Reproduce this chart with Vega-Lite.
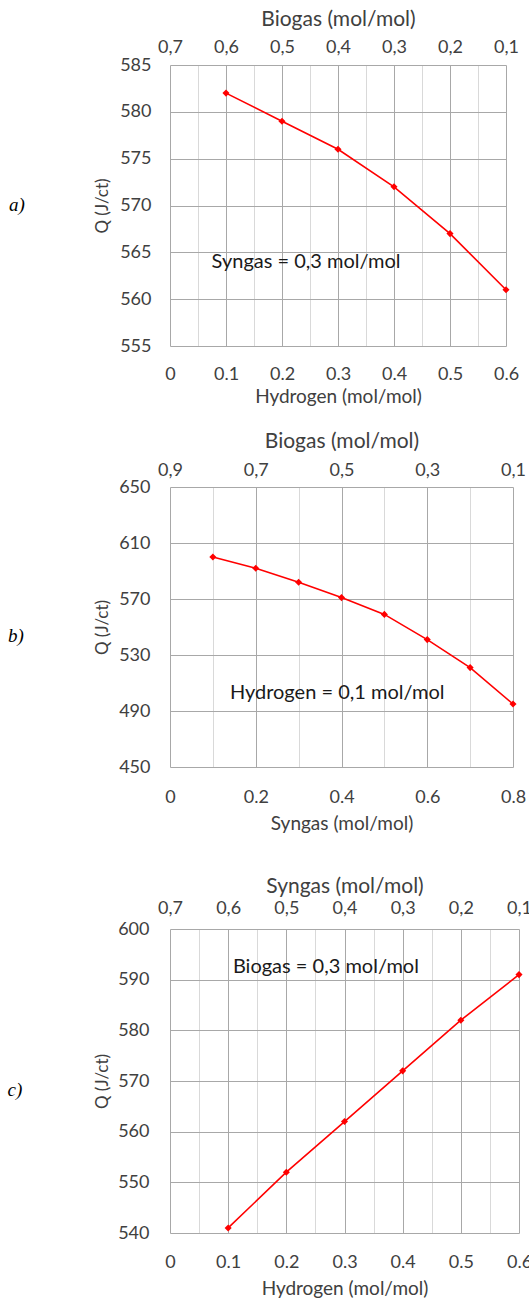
{
  "$schema": "https://vega.github.io/schema/vega-lite/v6.json",
  "padding": {"left": 7, "top": 8, "right": 0, "bottom": 0},
  "config": {
    "font": "Lato",
    "view": {"stroke": null},
    "axis": {"labelFont": "Lato", "titleFont": "Lato", "labelColor": "#404040", "titleColor": "#404040", "titleFontWeight": "normal", "ticks": false, "domain": false, "labelFontSize": 18, "titleFontSize": 19, "labelOverlap": false, "labelFlush": false, "labelBound": false}
  },
  "datasets": {
    "a": [
      {"hydrogen": 0.1, "biogas": 0.6, "Q": 582},
      {"hydrogen": 0.2, "biogas": 0.5, "Q": 579},
      {"hydrogen": 0.3, "biogas": 0.4, "Q": 576},
      {"hydrogen": 0.4, "biogas": 0.3, "Q": 572},
      {"hydrogen": 0.5, "biogas": 0.2, "Q": 567},
      {"hydrogen": 0.6, "biogas": 0.1, "Q": 561}
    ],
    "b": [
      {"syngas": 0.1, "biogas": 0.8, "Q": 600},
      {"syngas": 0.2, "biogas": 0.7, "Q": 592},
      {"syngas": 0.3, "biogas": 0.6, "Q": 582},
      {"syngas": 0.4, "biogas": 0.5, "Q": 571},
      {"syngas": 0.5, "biogas": 0.4, "Q": 559},
      {"syngas": 0.6, "biogas": 0.3, "Q": 541},
      {"syngas": 0.7, "biogas": 0.2, "Q": 521},
      {"syngas": 0.8, "biogas": 0.1, "Q": 495}
    ],
    "c": [
      {"hydrogen": 0.1, "syngas": 0.6, "Q": 541},
      {"hydrogen": 0.2, "syngas": 0.5, "Q": 552},
      {"hydrogen": 0.3, "syngas": 0.4, "Q": 562},
      {"hydrogen": 0.4, "syngas": 0.3, "Q": 572},
      {"hydrogen": 0.5, "syngas": 0.2, "Q": 582},
      {"hydrogen": 0.6, "syngas": 0.1, "Q": 591}
    ],
    "noteA": [{"x": 0.243, "y": 564, "label": "Syngas = 0,3 mol/mol"}],
    "noteB": [{"x": 0.39, "y": 503, "label": "Hydrogen = 0,1 mol/mol"}],
    "noteC": [{"x": 0.268, "y": 592.5, "label": "Biogas = 0,3 mol/mol"}]
  },
  "spacing": 42,
  "vconcat": [
    {
      "spacing": 24,
      "vconcat": [
        {
          "title": {"text": "a)", "orient": "left", "angle": 0, "anchor": "middle", "font": "Liberation Serif", "fontStyle": "italic", "fontWeight": "normal", "fontSize": 19, "color": "#000000", "offset": 61, "dy": -10},
          "width": 336,
          "height": 281,
          "data": {"name": "a"},
          "resolve": {"scale": {"x": "independent"}, "axis": {"x": "independent"}},
          "layer": [
            {
              "mark": {"type": "line", "color": "#ff0000", "strokeWidth": 1.6},
              "encoding": {
                "x": {"field": "hydrogen", "type": "quantitative", "scale": {"domain": [0, 0.6], "nice": false},
                  "axis": {"orient": "bottom", "title": "Hydrogen (mol/mol)", "values": [0, 0.05, 0.1, 0.15, 0.2, 0.25, 0.3, 0.35, 0.4, 0.45, 0.5, 0.55, 0.6],
                    "grid": true, "gridColor": {"condition": {"test": "abs(datum.value*10-round(datum.value*10))<0.001", "value": "#a8a8a8"}, "value": "#d9d9d9"},
                    "labelExpr": "abs(datum.value*10-round(datum.value*10))<0.001 ? format(datum.value,'~g') : ''", "labelPadding": 19, "titlePadding": 4}},
                "y": {"field": "Q", "type": "quantitative", "scale": {"domain": [555, 585], "nice": false, "zero": false},
                  "axis": {"title": "Q (J/ct)", "titleFontSize": 17, "values": [555, 557.5, 560, 562.5, 565, 567.5, 570, 572.5, 575, 577.5, 580, 582.5, 585],
                    "grid": true, "gridColor": {"condition": {"test": "datum.value % 5 == 0", "value": "#a8a8a8"}, "value": "#d9d9d9"},
                    "labelExpr": "datum.value % 5 == 0 ? format(datum.value,'~g') : ''", "labelPadding": 19, "titlePadding": 8}}
              }
            },
            {
              "mark": {"type": "point", "shape": "diamond", "filled": true, "color": "#ff0000", "size": 50, "opacity": 1},
              "encoding": {
                "x": {"field": "biogas", "type": "quantitative", "scale": {"domain": [0.1, 0.7], "reverse": true, "nice": false},
                  "axis": {"orient": "top", "title": "Biogas (mol/mol)", "titleFontSize": 21, "values": [0.1, 0.2, 0.3, 0.4, 0.5, 0.6, 0.7], "grid": false,
                    "labelExpr": "replace(format(datum.value,'.1f'),'.',',')", "labelPadding": 9, "titlePadding": 9}},
                "y": {"field": "Q", "type": "quantitative"}
              }
            },
            {
              "data": {"name": "noteA"},
              "mark": {"type": "text", "font": "Lato", "fontSize": 20, "color": "#1a1a1a"},
              "encoding": {
                "x": {"field": "x", "type": "quantitative", "scale": {"domain": [0, 0.6], "nice": false}, "axis": null},
                "y": {"field": "y", "type": "quantitative"},
                "text": {"field": "label"}
              }
            }
          ]
        },
        {
          "title": {"text": "b)", "orient": "left", "angle": 0, "anchor": "middle", "font": "Liberation Serif", "fontStyle": "italic", "fontWeight": "normal", "fontSize": 19, "color": "#000000", "offset": 62},
          "width": 343,
          "height": 280,
          "data": {"name": "b"},
          "resolve": {"scale": {"x": "independent"}, "axis": {"x": "independent"}},
          "layer": [
            {
              "mark": {"type": "line", "color": "#ff0000", "strokeWidth": 1.6},
              "encoding": {
                "x": {"field": "syngas", "type": "quantitative", "scale": {"domain": [0, 0.8], "nice": false},
                  "axis": {"orient": "bottom", "title": "Syngas (mol/mol)", "values": [0, 0.1, 0.2, 0.3, 0.4, 0.5, 0.6, 0.7, 0.8],
                    "grid": true, "gridColor": {"condition": {"test": "abs(datum.value*5-round(datum.value*5))<0.001", "value": "#a8a8a8"}, "value": "#d9d9d9"},
                    "labelExpr": "abs(datum.value*5-round(datum.value*5))<0.001 ? format(datum.value,'~g') : ''", "labelPadding": 21, "titlePadding": 8}},
                "y": {"field": "Q", "type": "quantitative", "scale": {"domain": [450, 650], "nice": false, "zero": false},
                  "axis": {"title": "Q (J/ct)", "titleFontSize": 17, "values": [450, 470, 490, 510, 530, 550, 570, 590, 610, 630, 650],
                    "grid": true, "gridColor": {"condition": {"test": "(datum.value - 450) % 40 == 0", "value": "#a8a8a8"}, "value": "#d9d9d9"},
                    "labelExpr": "(datum.value - 450) % 40 == 0 ? format(datum.value,'~g') : ''", "labelPadding": 20, "titlePadding": 7}}
              }
            },
            {
              "mark": {"type": "point", "shape": "diamond", "filled": true, "color": "#ff0000", "size": 50, "opacity": 1},
              "encoding": {
                "x": {"field": "biogas", "type": "quantitative", "scale": {"domain": [0.1, 0.9], "reverse": true, "nice": false},
                  "axis": {"orient": "top", "title": "Biogas (mol/mol)", "titleFontSize": 21, "values": [0.1, 0.3, 0.5, 0.7, 0.9], "grid": false,
                    "labelExpr": "replace(format(datum.value,'.1f'),'.',',')", "labelPadding": 8, "titlePadding": 10}},
                "y": {"field": "Q", "type": "quantitative"}
              }
            },
            {
              "data": {"name": "noteB"},
              "mark": {"type": "text", "font": "Lato", "fontSize": 20, "color": "#1a1a1a"},
              "encoding": {
                "x": {"field": "x", "type": "quantitative", "scale": {"domain": [0, 0.8], "nice": false}, "axis": null},
                "y": {"field": "y", "type": "quantitative"},
                "text": {"field": "label"}
              }
            }
          ]
        }
      ]
    },
    {
      "title": {"text": "c)", "orient": "left", "angle": 0, "anchor": "middle", "font": "Liberation Serif", "fontStyle": "italic", "fontWeight": "normal", "fontSize": 19, "color": "#000000", "offset": 64},
      "width": 349,
      "height": 304,
      "data": {"name": "c"},
      "resolve": {"scale": {"x": "independent"}, "axis": {"x": "independent"}},
      "layer": [
        {
          "mark": {"type": "line", "color": "#ff0000", "strokeWidth": 1.6},
          "encoding": {
            "x": {"field": "hydrogen", "type": "quantitative", "scale": {"domain": [0, 0.6], "nice": false},
              "axis": {"orient": "bottom", "title": "Hydrogen (mol/mol)", "values": [0, 0.05, 0.1, 0.15, 0.2, 0.25, 0.3, 0.35, 0.4, 0.45, 0.5, 0.55, 0.6],
                "grid": true, "gridColor": {"condition": {"test": "abs(datum.value*10-round(datum.value*10))<0.001", "value": "#a8a8a8"}, "value": "#d9d9d9"},
                "labelExpr": "abs(datum.value*10-round(datum.value*10))<0.001 ? format(datum.value,'~g') : ''", "labelPadding": 20, "titlePadding": 8}},
            "y": {"field": "Q", "type": "quantitative", "scale": {"domain": [540, 600], "nice": false, "zero": false},
              "axis": {"title": "Q (J/ct)", "titleFontSize": 17, "values": [540, 545, 550, 555, 560, 565, 570, 575, 580, 585, 590, 595, 600],
                "grid": true, "gridColor": {"condition": {"test": "datum.value % 10 == 0", "value": "#a8a8a8"}, "value": "#d9d9d9"},
                "labelExpr": "datum.value % 10 == 0 ? format(datum.value,'~g') : ''", "labelPadding": 21, "titlePadding": 6}}
          }
        },
        {
          "mark": {"type": "point", "shape": "diamond", "filled": true, "color": "#ff0000", "size": 50, "opacity": 1},
          "encoding": {
            "x": {"field": "syngas", "type": "quantitative", "scale": {"domain": [0.1, 0.7], "reverse": true, "nice": false},
              "axis": {"orient": "top", "title": "Syngas (mol/mol)", "titleFontSize": 21, "values": [0.1, 0.2, 0.3, 0.4, 0.5, 0.6, 0.7], "grid": false,
                "labelExpr": "replace(format(datum.value,'.1f'),'.',',')", "labelPadding": 12, "titlePadding": 3}},
            "y": {"field": "Q", "type": "quantitative"}
          }
        },
        {
          "data": {"name": "noteC"},
          "mark": {"type": "text", "font": "Lato", "fontSize": 20, "color": "#1a1a1a"},
          "encoding": {
            "x": {"field": "x", "type": "quantitative", "scale": {"domain": [0, 0.6], "nice": false}, "axis": null},
            "y": {"field": "y", "type": "quantitative"},
            "text": {"field": "label"}
          }
        }
      ]
    }
  ]
}
